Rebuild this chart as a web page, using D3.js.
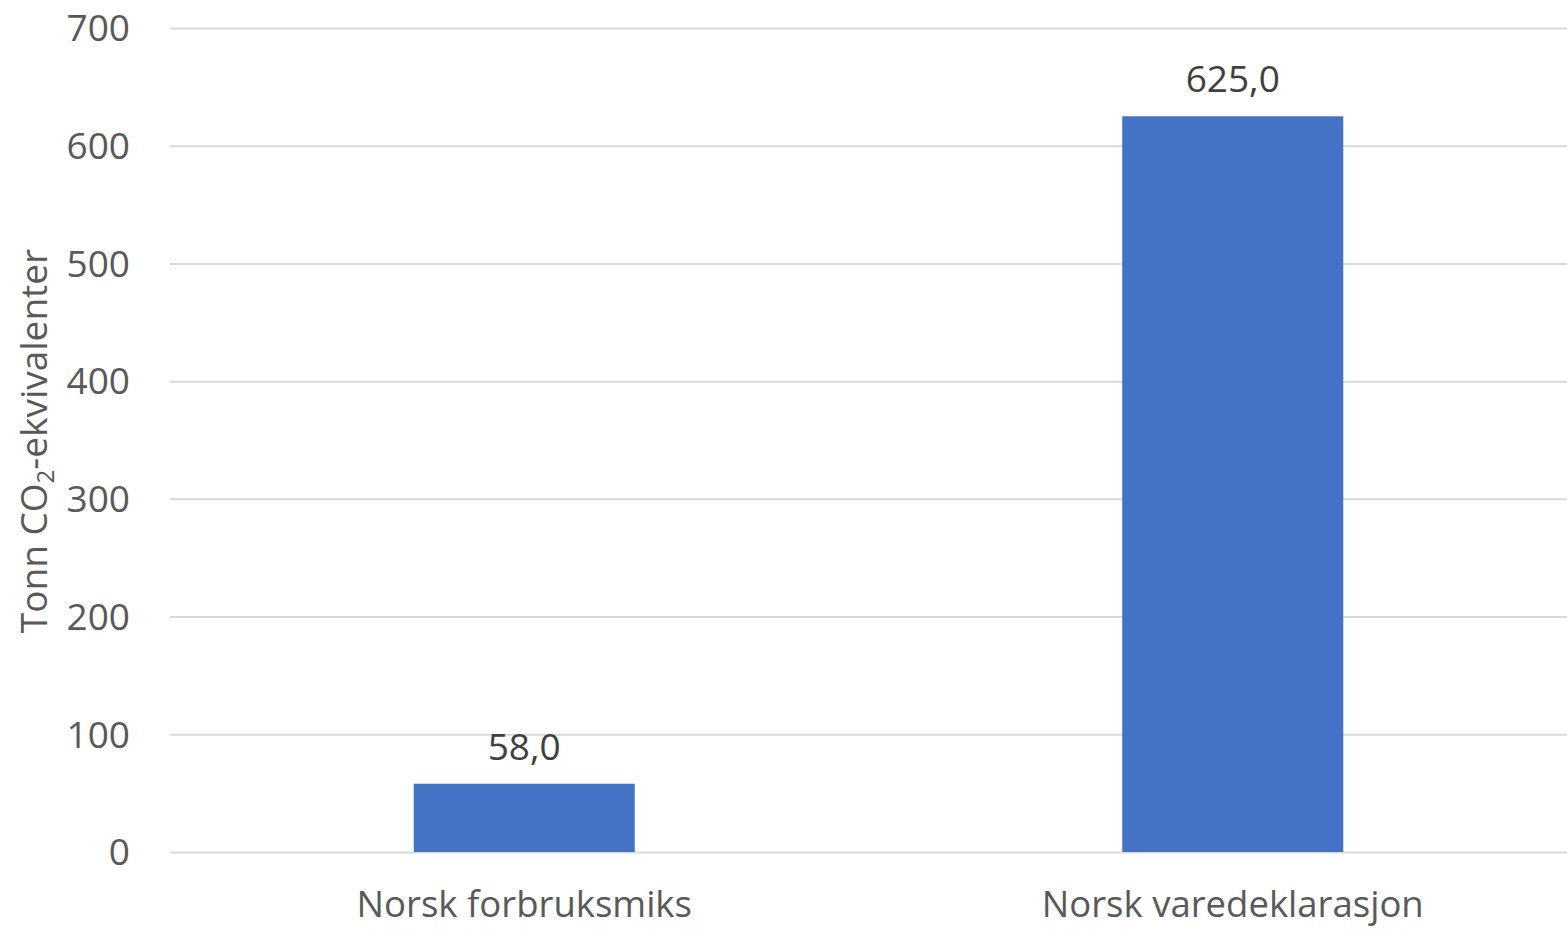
<!DOCTYPE html>
<html>
<head>
<meta charset="utf-8">
<script src="https://cdn.jsdelivr.net/npm/d3@7"></script>
<style>
  body { margin: 0; background: #fff; }
  text { font-family: "Open Sans", "Noto Sans", sans-serif; }
</style>
</head>
<body>
<div id="chart"></div>
<script>
// chart data
const categories = ["Norsk forbruksmiks", "Norsk varedeklarasjon"]
const values = [58.0, 625.0]
const yTicks = [0, 100, 200, 300, 400, 500, 600, 700]

const width = 1567
const height = 929

const svg = d3.select("#chart")
  .append("svg")
  .attr("width", width)
  .attr("height", height)

const x = d3.scaleBand()
  .domain(categories)
  .range([170, 1587])
  .paddingInner(0.688)
  .paddingOuter(0.344)

const y = d3.scaleLinear()
  .domain([0, 700])
  .range([852, 28])

// gridlines
svg.append("g")
  .selectAll("line")
  .data(yTicks)
  .join("line")
    .attr("x1", 170)
    .attr("x2", width)
    .attr("y1", d => y(d) + 0.5)
    .attr("y2", d => y(d) + 0.5)
    .attr("stroke", "#d9d9d9")
    .attr("stroke-width", 2)

// y tick labels
svg.append("g")
  .selectAll("text")
  .data(yTicks)
  .join("text")
    .attr("x", 130)
    .attr("y", d => y(d))
    .attr("dy", "0.36em")
    .attr("text-anchor", "end")
    .attr("fill", "#595959")
    .style("font-size", "37px")
    .text(d => d)

// bars
svg.append("g")
  .selectAll("rect")
  .data(values)
  .join("rect")
    .attr("x", (d, i) => x(categories[i]))
    .attr("width", x.bandwidth())
    .attr("y", d => y(d))
    .attr("height", d => y(0) - y(d))
    .attr("fill", "#4472c4")

// data labels
const fmt = d => d.toFixed(1).replace(".", ",")
svg.append("g")
  .selectAll("text")
  .data(values)
  .join("text")
    .attr("x", (d, i) => x(categories[i]) + x.bandwidth() / 2)
    .attr("y", d => y(d) - 24)
    .attr("text-anchor", "middle")
    .attr("fill", "#404040")
    .style("font-size", "37px")
    .text(fmt)

// category labels
svg.append("g")
  .selectAll("text")
  .data(categories)
  .join("text")
    .attr("x", d => x(d) + x.bandwidth() / 2)
    .attr("y", 917)
    .attr("text-anchor", "middle")
    .attr("fill", "#595959")
    .style("font-size", "36.5px")
    .text(d => d)

// y axis title
const title = svg.append("text")
  .attr("transform", "translate(47,441) rotate(-90)")
  .attr("text-anchor", "middle")
  .attr("fill", "#595959")
  .style("font-size", "37px")
title.append("tspan").text("Tonn CO")
title.append("tspan").attr("dy", "0.3em").style("font-size", "24px").text("2")
title.append("tspan").attr("dy", "-0.2em").text("-ekvivalenter")
</script>
</body>
</html>
